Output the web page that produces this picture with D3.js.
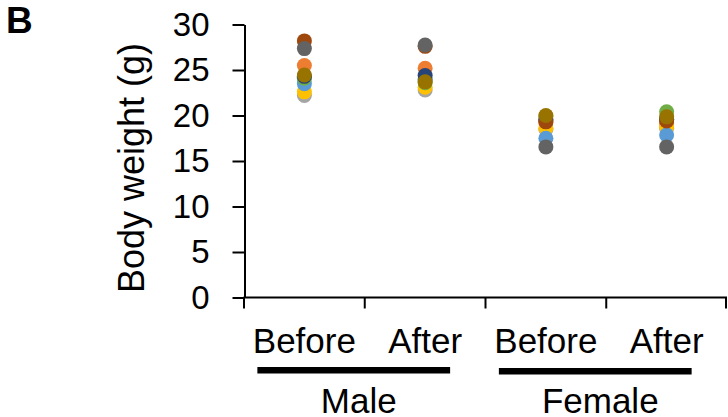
<!DOCTYPE html>
<html>
<head>
<meta charset="utf-8">
<script src="https://cdn.jsdelivr.net/npm/d3@7"></script>
<style>
  body { margin: 0; background: #fff; }
  svg { font-family: Arial, "Liberation Sans", sans-serif; }
</style>
</head>
<body>
<svg width="728" height="417"></svg>
<script>
// categories along x: sex x time point
const categories = ["Male Before", "Male After", "Female Before", "Female After"];
const catLabels = ["Before", "After", "Before", "After"];
const groups = ["Male", "Female"];
const yTicks = [0, 5, 10, 15, 20, 25, 30];

// one series per animal pair, values in category order (g)
const s1 = [24.2, 24.0, 19.6, 19.6];
const s2 = [25.5, 25.2, 19.2, 19.1];
const s3 = [22.2, 22.8, 18.5, 18.6];
const s4 = [22.6, 23.1, 18.6, 18.75];
const s5 = [23.5, 23.9, 17.5, 17.85];
const s6 = [24.1, 23.6, 19.9, 20.4];
const s7 = [24.3, 24.4, 19.5, 19.6];
const s8 = [28.2, 27.6, 19.3, 19.4];
const s9 = [27.35, 27.75, 16.55, 16.55];
const s10 = [24.45, 23.7, 20.0, 19.85];
const seriesValues = [s1, s2, s3, s4, s5, s6, s7, s8, s9, s10];
const seriesColors = ["#4472C4", "#ED7D31", "#A5A5A5", "#FFC000", "#5B9BD5",
                      "#70AD47", "#264478", "#9E480E", "#636363", "#997300"];

const svg = d3.select("svg");

const x = d3.scaleBand()
    .domain(categories)
    .range([244, 727]);

const y = d3.scaleLinear()
    .domain([0, 30])
    .range([297.5, 24.5]);

// y axis
const yAxis = svg.append("g")
    .attr("transform", "translate(244.5,0)")
    .call(d3.axisLeft(y).tickValues(yTicks).tickSize(12).tickSizeOuter(0).tickPadding(23));
yAxis.select(".domain").attr("stroke", "#000").attr("stroke-width", 2);
yAxis.selectAll(".tick line").attr("stroke", "#000").attr("stroke-width", 2);
yAxis.selectAll(".tick text")
    .attr("fill", "#000")
    .style("font-size", "33px")
    .style("font-family", "Arial, 'Liberation Sans', sans-serif");

// x axis line + boundary ticks
svg.append("line")
    .attr("x1", 243.5).attr("x2", 727)
    .attr("y1", y(0)).attr("y2", y(0))
    .attr("stroke", "#000").attr("stroke-width", 2);

const bounds = categories.map(c => x(c)).concat([x.range()[1]]);
svg.selectAll(".xtick")
  .data(bounds)
  .join("line")
    .attr("class", "xtick")
    .attr("x1", d => Math.min(d, 726)).attr("x2", d => Math.min(d, 726))
    .attr("y1", y(0)).attr("y2", y(0) + 11)
    .attr("stroke", "#000").attr("stroke-width", 2);

// category labels
svg.selectAll(".catlab")
  .data(categories)
  .join("text")
    .attr("class", "catlab")
    .attr("x", d => x(d) + x.bandwidth() / 2)
    .attr("y", 353)
    .attr("text-anchor", "middle")
    .style("font-size", "35px")
    .text((d, i) => catLabels[i]);

// group underline bars and labels
groups.forEach((g, gi) => {
  const first = categories[gi * 2], last = categories[gi * 2 + 1];
  const x0 = x(first) + x.bandwidth() / 2 - 47;
  const x1 = x(last) + x.bandwidth() / 2 + 25;
  svg.append("rect")
      .attr("x", x0).attr("y", 367 + gi)
      .attr("width", x1 - x0).attr("height", 6.5)
      .attr("fill", "#000");
  svg.append("text")
      .attr("x", (x(first) + x(last) + x.bandwidth()) / 2 - 6)
      .attr("y", 413)
      .attr("text-anchor", "middle")
      .style("font-size", "35px")
      .text(g);
});

// dots, series drawn in order so the last one sits on top
seriesValues.forEach((vals, si) => {
  svg.append("g")
    .selectAll("circle")
    .data(vals)
    .join("circle")
      .attr("cx", (d, i) => x(categories[i]) + x.bandwidth() / 2)
      .attr("cy", d => y(d))
      .attr("r", 7.5)
      .attr("fill", seriesColors[si]);
});

// y title
svg.append("text")
    .attr("transform", "translate(144,168) rotate(-90)")
    .attr("text-anchor", "middle")
    .style("font-size", "36px")
    .text("Body weight (g)");

// panel letter
svg.append("text")
    .attr("x", 6).attr("y", 33)
    .style("font-size", "37px")
    .style("font-weight", "bold")
    .text("B");
</script>
</body>
</html>
